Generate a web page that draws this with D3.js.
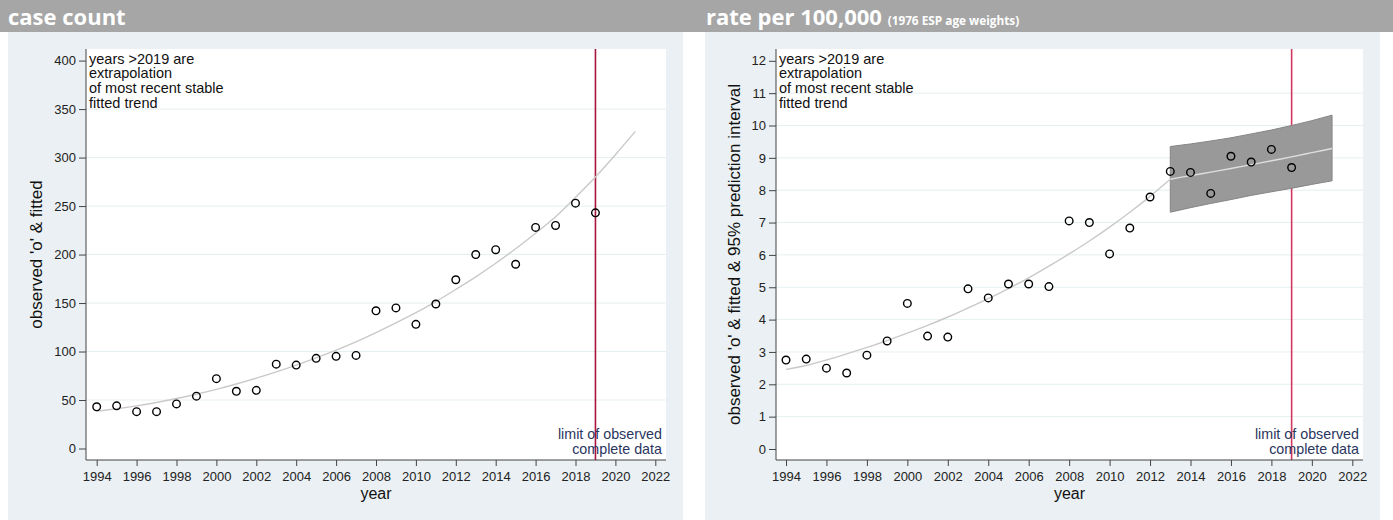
<!DOCTYPE html>
<html><head><meta charset="utf-8">
<script src="https://cdn.jsdelivr.net/npm/d3@7"></script>
<style>
html,body{margin:0;padding:0;background:#fff;}
svg{display:block;}
</style></head>
<body>
<svg id="chart" width="1393" height="520"></svg>
<script>
// ---------- data ----------
const years = d3.range(1994, 2020);
const countObserved = [43,44,38,38,46,54,72,59,60,87,86,93,95,96,142,145,128,149,174,200,205,190,228,230,253,243];
const fitYearsLeft = d3.range(1994, 2022);
const countFitted = [38.5,41,44,47.5,51.5,56,61,66.5,72.5,79,86,93.5,101.5,110,119.5,129.5,140,151.5,164,177,191,206,222,239,259,280,303,327];

const rateObserved = [2.75,2.78,2.5,2.35,2.9,3.34,4.5,3.49,3.46,4.95,4.67,5.1,5.1,5.02,7.05,7.0,6.03,6.83,7.79,8.58,8.55,7.9,9.05,8.87,9.26,8.7];
const fitYearsRate1 = d3.range(1994, 2014);
const rateFitted1 = [2.46,2.58,2.75,2.94,3.14,3.35,3.58,3.82,4.08,4.36,4.65,4.96,5.29,5.65,6.03,6.43,6.86,7.32,7.81,8.34];
const fitYearsRate2 = d3.range(2013, 2022);
const rateFitted2 = [8.34,8.45,8.56,8.67,8.79,8.91,9.03,9.16,9.29];
const rateUpper = [9.35,9.43,9.52,9.62,9.74,9.86,10.0,10.15,10.32];
const rateLower = [7.32,7.46,7.59,7.71,7.84,7.95,8.06,8.18,8.29];

const xTicks = d3.range(1994, 2023, 2);
const countTicks = [0,50,100,150,200,250,300,350,400];
const rateTicks = d3.range(0, 13, 1);
const limitYear = 2019;
const noteLines = ["years >2019 are","extrapolation","of most recent stable","fitted trend"];
const limitLines = ["limit of observed","complete data"];

// ---------- layout ----------
const svg = d3.select("#chart");
const FONT = "'Liberation Sans', Arial, sans-serif";

svg.append("rect").attr("x",0).attr("y",0).attr("width",1393).attr("height",32).attr("fill","#a6a6a6");
svg.append("text").attr("x",8).attr("y",25).attr("fill","#fff")
  .style("font-family","'Open Sans', sans-serif").style("font-weight","700").style("font-size","22px")
  .text("case count");
const t2 = svg.append("text").attr("x",706).attr("y",25).attr("fill","#fff")
  .style("font-family","'Open Sans', sans-serif").style("font-weight","700");
t2.append("tspan").style("font-size","22px").text("rate per 100,000 ");
t2.append("tspan").style("font-size","11.8px").text("(1976 ESP age weights)");

const panels = [
  {bx:8, bw:675, px0:86, px1:666, xr:[96.7,655.3], yd:[0,400], yr:[448.5,60.6], ticks:countTicks,
   ylab:"observed 'o' & fitted", ylabX:41.5, red:"#a8153f", obs:countObserved,
   fits:[{yrs:fitYearsLeft, v:countFitted, c:"#c9c9c9"}]},
  {bx:705, bw:675, px0:776, px1:1363, xr:[786,1352.3], yd:[0,12], yr:[449,60.8], ticks:rateTicks,
   ylab:"observed 'o' & fitted & 95% prediction interval", ylabX:739.5, red:"#d2385f", obs:rateObserved,
   band:true,
   fits:[{yrs:fitYearsRate1, v:rateFitted1, c:"#c9c9c9"},{yrs:fitYearsRate2, v:rateFitted2, c:"#dedede"}]}
];

const py0 = 49, py1 = 460;

panels.forEach(p => {
  const g = svg.append("g");
  g.append("rect").attr("x",p.bx).attr("y",32).attr("width",p.bw).attr("height",488).attr("fill","#eaf0f3");
  g.append("rect").attr("x",p.px0).attr("y",py0).attr("width",p.px1-p.px0).attr("height",py1-py0).attr("fill","#fff");

  const x = d3.scaleLinear().domain([1994,2022]).range(p.xr);
  const y = d3.scaleLinear().domain(p.yd).range(p.yr);

  // grid
  g.selectAll(".grid").data(p.ticks.slice(1,-1)).enter().append("line")
    .attr("x1",p.px0).attr("x2",p.px1).attr("y1",d=>y(d)).attr("y2",d=>y(d))
    .attr("stroke","#e6eff1").attr("stroke-width",1);

  // red limit line
  g.append("line").attr("x1",x(limitYear)).attr("x2",x(limitYear)).attr("y1",py0).attr("y2",py1)
    .attr("stroke",p.red).attr("stroke-width",1.6);

  // band
  if (p.band) {
    const bd = fitYearsRate2.map((yr,i)=>({yr, lo:rateLower[i], hi:rateUpper[i]}));
    g.append("path").datum(bd)
      .attr("d", d3.area().x(d=>x(d.yr)).y0(d=>y(d.lo)).y1(d=>y(d.hi)).curve(d3.curveMonotoneX))
      .attr("fill","#999999").attr("stroke","#858585").attr("stroke-width",1);
  }

  // fitted lines
  p.fits.forEach(f => {
    const data = f.yrs.map((yr,i)=>[yr,f.v[i]]);
    g.append("path").datum(data)
      .attr("d", d3.line().x(d=>x(d[0])).y(d=>y(d[1])).curve(d3.curveMonotoneX))
      .attr("fill","none").attr("stroke",f.c).attr("stroke-width",1.4);
  });

  // points
  g.selectAll(".pt").data(years.map((yr,i)=>[yr,p.obs[i]])).enter().append("circle")
    .attr("cx",d=>x(d[0])).attr("cy",d=>y(d[1])).attr("r",3.8)
    .attr("fill","none").attr("stroke","#000").attr("stroke-width",1.4);

  // axes
  const yAxis = d3.axisLeft(y).tickValues(p.ticks).tickSize(7).tickPadding(3).tickFormat(d3.format("d"));
  const ya = g.append("g").attr("transform",`translate(${p.px0},0)`).call(yAxis);
  ya.select(".domain").attr("d",`M0,${py0}V${py1}`).attr("stroke","#444");
  ya.selectAll(".tick line").attr("stroke","#444");
  ya.selectAll("text").style("font-family",FONT).style("font-size","13px").attr("fill","#222");

  const xAxis = d3.axisBottom(x).tickValues(xTicks).tickSize(6).tickPadding(6).tickFormat(d3.format("d"));
  const xa = g.append("g").attr("transform",`translate(0,${py1})`).call(xAxis);
  xa.select(".domain").attr("d",`M${p.px0},0H${p.px1}`).attr("stroke","#444");
  xa.selectAll(".tick line").attr("stroke","#444");
  xa.selectAll("text").style("font-family",FONT).style("font-size","13px").attr("fill","#222");

  // axis titles
  g.append("text").attr("x",(p.px0+p.px1)/2).attr("y",499).attr("text-anchor","middle")
    .style("font-family",FONT).style("font-size","16px").attr("fill","#111").text("year");
  g.append("text").attr("transform",`translate(${p.ylabX},${(py0+py1)/2}) rotate(-90)`).attr("text-anchor","middle")
    .style("font-family",FONT).style("font-size","17px").attr("fill","#111").text(p.ylab);

  // notes
  noteLines.forEach((s,i)=>{
    g.append("text").attr("x",p.px0+3).attr("y",63.5+i*14.8)
      .style("font-family",FONT).style("font-size","14.5px").attr("fill","#111").text(s);
  });
  limitLines.forEach((s,i)=>{
    g.append("text").attr("x",p.px1-4).attr("y",438.5+i*15.5).attr("text-anchor","end")
      .style("font-family",FONT).style("font-size","14.3px").attr("fill","#2a3660").text(s);
  });
});
</script>
</body></html>
